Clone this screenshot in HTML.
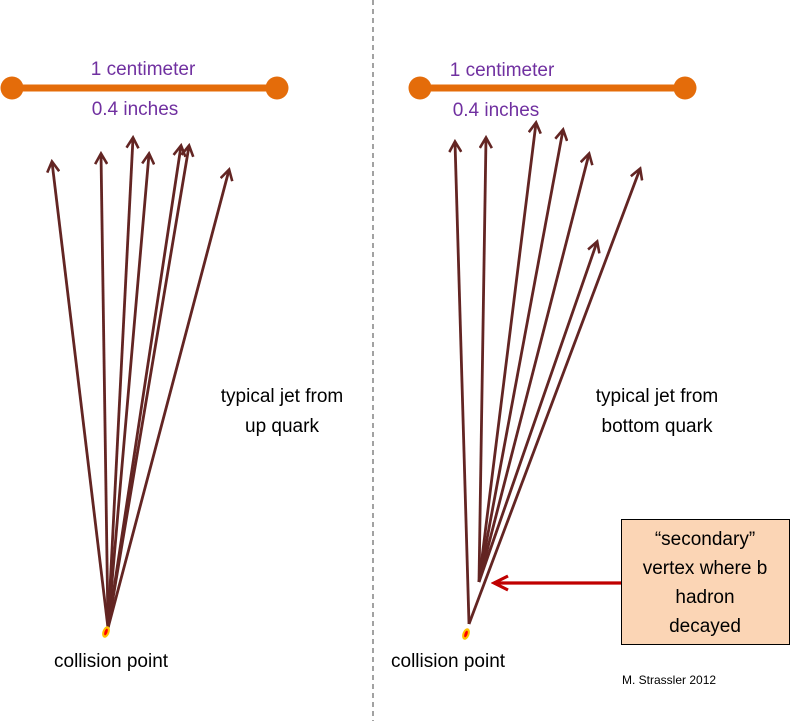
<!DOCTYPE html>
<html><head><meta charset="utf-8"><style>html,body{margin:0;padding:0;background:#fff}svg{display:block}</style></head>
<body>
<svg width="800" height="721" viewBox="0 0 800 721" xmlns="http://www.w3.org/2000/svg" font-family="'Liberation Sans', sans-serif">
<defs>
<marker id="a" markerWidth="14" markerHeight="14" refX="11" refY="7" orient="auto" markerUnits="userSpaceOnUse" viewBox="0 0 14 14">
<path d="M1,1 L11.5,7 L1,13" fill="none" stroke="#632523" stroke-width="2.6"/>
</marker>
<marker id="r" markerWidth="18" markerHeight="18" refX="15" refY="9" orient="auto" markerUnits="userSpaceOnUse" viewBox="0 0 18 18">
<path d="M1,2 L15,9 L1,16" fill="none" stroke="#c00000" stroke-width="3.2"/>
</marker>
</defs>
<line x1="373" y1="0" x2="373" y2="721" stroke="#444" stroke-width="1" stroke-dasharray="5,4"/>
<!-- scale bars -->
<g fill="#e46c0a" stroke="#e46c0a">
<line x1="12" y1="88" x2="277" y2="88" stroke-width="7"/>
<circle cx="12" cy="88" r="11.5" stroke="none"/><circle cx="277" cy="88" r="11.5" stroke="none"/>
<line x1="420" y1="88" x2="685" y2="88" stroke-width="7"/>
<circle cx="420" cy="88" r="11.5" stroke="none"/><circle cx="685" cy="88" r="11.5" stroke="none"/>
</g>
<g fill="#7030a0" font-size="19" text-anchor="middle">
<text x="143" y="75">1 centimeter</text><text x="135" y="115">0.4 inches</text>
<text x="502" y="76">1 centimeter</text><text x="496" y="116">0.4 inches</text>
</g>
<!-- left jet -->
<g stroke="#632523" stroke-width="2.8" marker-end="url(#a)">
<line x1="108" y1="628" x2="52" y2="162"/>
<line x1="108" y1="628" x2="101" y2="154"/>
<line x1="108" y1="628" x2="133" y2="138"/>
<line x1="108" y1="628" x2="149" y2="154"/>
<line x1="108" y1="628" x2="181" y2="146"/>
<line x1="108" y1="628" x2="189" y2="146"/>
<line x1="108" y1="628" x2="229" y2="170"/>
</g>
<!-- right jet -->
<g stroke="#632523" stroke-width="2.8" marker-end="url(#a)">
<line x1="469" y1="624" x2="455" y2="142"/>
<line x1="469" y1="624" x2="640" y2="169"/>
<line x1="479" y1="582" x2="486" y2="138"/>
<line x1="479" y1="582" x2="536" y2="123"/>
<line x1="479" y1="582" x2="563" y2="130"/>
<line x1="479" y1="582" x2="589" y2="154"/>
<line x1="479" y1="582" x2="597" y2="242"/>
</g>
<!-- collision points -->
<ellipse cx="106" cy="632" rx="3.5" ry="6" fill="#ffc000" transform="rotate(20 106 632)"/>
<ellipse cx="106" cy="632" rx="1.5" ry="3.5" fill="#ff0000" transform="rotate(20 106 632)"/>
<ellipse cx="466" cy="634" rx="3.5" ry="6" fill="#ffc000" transform="rotate(20 466 634)"/>
<ellipse cx="466" cy="634" rx="1.5" ry="3.5" fill="#ff0000" transform="rotate(20 466 634)"/>
<g font-size="19" fill="#000">
<text x="54" y="667">collision point</text>
<text x="391" y="667">collision point</text>
<text x="282" y="402" text-anchor="middle">typical jet from</text>
<text x="282" y="432" text-anchor="middle">up quark</text>
<text x="657" y="402" text-anchor="middle">typical jet from</text>
<text x="657" y="432" text-anchor="middle">bottom quark</text>
</g>
<!-- red arrow -->
<line x1="621" y1="583" x2="494" y2="583" stroke="#c00000" stroke-width="3.2" marker-end="url(#r)"/>
<rect x="621.5" y="519.5" width="168" height="125" fill="#fbd5b5" stroke="#000" stroke-width="1"/>
<g font-size="19" text-anchor="middle" fill="#000">
<text x="705" y="545">“secondary”</text>
<text x="705" y="574">vertex where b</text>
<text x="705" y="603">hadron</text>
<text x="705" y="632">decayed</text>
</g>
<text x="622" y="684" font-size="12" fill="#000">M. Strassler 2012</text>
</svg>
</body></html>
